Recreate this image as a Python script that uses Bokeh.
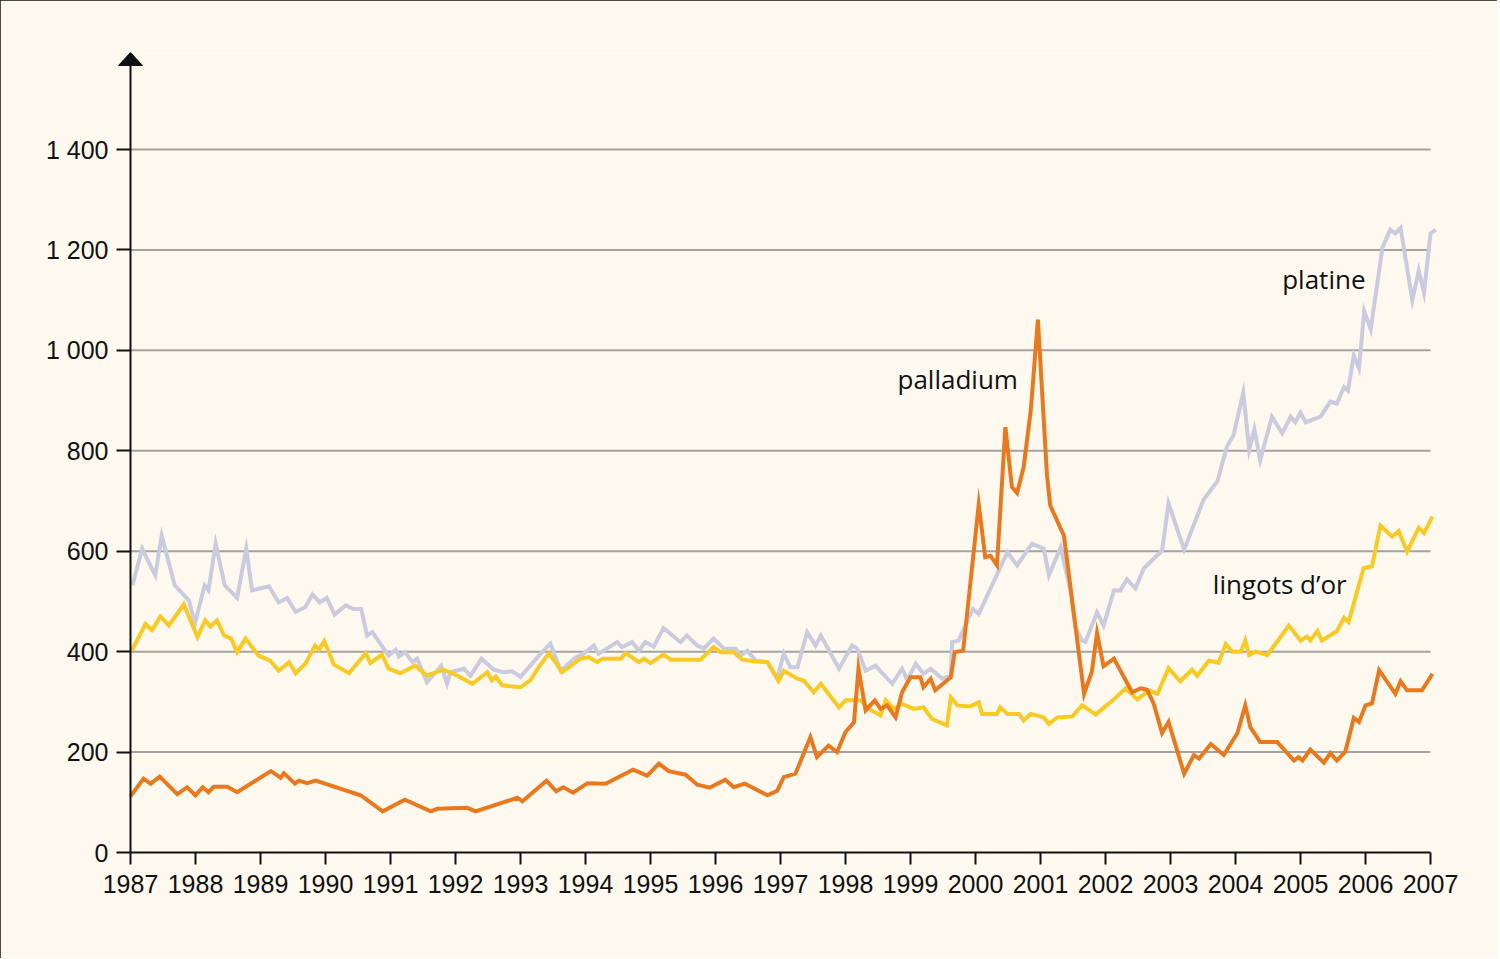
from bokeh.plotting import figure
from bokeh.models import Range1d, FixedTicker, Label, Span
from bokeh.embed import file_html
from bokeh.resources import INLINE

# ---- data ----
years_ticks = list(range(1987, 2008))
year_labels = [str(y) for y in years_ticks]
y_ticks = [0, 200, 400, 600, 800, 1000, 1200, 1400]
y_labels = ["0", "200", "400", "600", "800", "1 000", "1 200", "1 400"]

platine_x = [1987.03, 1987.18, 1987.38, 1987.48, 1987.68, 1987.90, 1987.99, 1988.14, 1988.20, 1988.31,
             1988.45, 1988.64, 1988.78, 1988.87, 1989.13, 1989.28, 1989.41, 1989.54, 1989.69, 1989.80,
             1989.91, 1990.02, 1990.14, 1990.31, 1990.43, 1990.55, 1990.64, 1990.72, 1990.97, 1991.08,
             1991.13, 1991.22, 1991.34, 1991.41, 1991.56, 1991.78, 1991.87, 1991.92, 1992.13, 1992.23,
             1992.40, 1992.59, 1992.74, 1992.87, 1993.00, 1993.31, 1993.46, 1993.62, 1993.82, 1993.97,
             1994.13, 1994.20, 1994.49, 1994.56, 1994.72, 1994.82, 1994.92, 1995.05, 1995.20, 1995.46,
             1995.56, 1995.72, 1995.82, 1995.97, 1996.13, 1996.31, 1996.38, 1996.49, 1996.62, 1996.80,
             1996.95, 1997.05, 1997.15, 1997.26, 1997.41, 1997.54, 1997.62, 1997.90, 1998.10, 1998.18,
             1998.31, 1998.46, 1998.72, 1998.87, 1998.95, 1999.08, 1999.20, 1999.31, 1999.49, 1999.62,
             1999.64, 1999.74, 1999.96, 2000.05, 2000.49, 2000.64, 2000.87, 2001.05, 2001.13, 2001.31,
             2001.46, 2001.54, 2001.64, 2001.69, 2001.87, 2001.97, 2002.13, 2002.23, 2002.33, 2002.46,
             2002.59, 2002.74, 2002.87, 2002.97, 2003.21, 2003.51, 2003.72, 2003.87, 2003.97, 2004.12,
             2004.21, 2004.29, 2004.38, 2004.56, 2004.72, 2004.85, 2004.92, 2005.00, 2005.08, 2005.31,
             2005.46, 2005.56, 2005.67, 2005.73, 2005.82, 2005.90, 2005.98, 2006.08, 2006.26, 2006.38,
             2006.46, 2006.54, 2006.72, 2006.82, 2006.90, 2007.00, 2007.08]
platine_y = [532, 605, 552, 631, 532, 502, 455, 532, 522, 615,
             532, 507, 605, 522, 530, 498, 507, 479, 489, 514,
             498, 507, 474, 492, 485, 485, 432, 439, 392, 404,
             390, 399, 379, 386, 339, 372, 336, 359, 366, 352,
             386, 364, 359, 361, 350, 396, 416, 362, 386, 396,
             412, 396, 419, 409, 419, 402, 419, 410, 447, 419,
             432, 412, 406, 426, 406, 406, 392, 402, 382, 379,
             346, 396, 369, 369, 439, 412, 432, 366, 412, 406,
             362, 372, 336, 366, 343, 376, 356, 366, 346, 352,
             419, 422, 485, 475, 598, 572, 615, 605, 552, 608,
             522, 448, 422, 419, 478, 452, 522, 522, 544, 526,
             566, 585, 601, 695, 603, 703, 739, 809, 831, 916,
             802, 843, 781, 868, 835, 868, 857, 876, 857, 868,
             898, 894, 927, 920, 990, 964, 1078, 1042, 1204, 1240,
             1233, 1244, 1100, 1159, 1115, 1233, 1240]

or_x = [1987.02, 1987.23, 1987.33, 1987.46, 1987.59, 1987.82, 1988.03, 1988.15, 1988.23, 1988.33,
        1988.44, 1988.55, 1988.64, 1988.77, 1988.97, 1989.15, 1989.28, 1989.44, 1989.54, 1989.69,
        1989.84, 1989.90, 1989.98, 1990.13, 1990.36, 1990.62, 1990.69, 1990.87, 1990.97, 1991.15,
        1991.38, 1991.56, 1991.81, 1992.03, 1992.26, 1992.49, 1992.56, 1992.62, 1992.72, 1993.00,
        1993.15, 1993.28, 1993.44, 1993.64, 1993.92, 1994.05, 1994.18, 1994.26, 1994.54, 1994.62,
        1994.82, 1994.90, 1995.00, 1995.20, 1995.31, 1995.77, 1995.97, 1996.08, 1996.28, 1996.41,
        1996.59, 1996.80, 1996.97, 1997.05, 1997.26, 1997.36, 1997.51, 1997.62, 1997.90, 1998.00,
        1998.23, 1998.36, 1998.54, 1998.62, 1998.74, 1998.87, 1999.05, 1999.20, 1999.33, 1999.56,
        1999.62, 1999.72, 1999.92, 2000.05, 2000.10, 2000.33, 2000.38, 2000.49, 2000.67, 2000.74,
        2000.85, 2001.05, 2001.13, 2001.26, 2001.49, 2001.64, 2001.85, 2002.13, 2002.31, 2002.49,
        2002.67, 2002.80, 2002.97, 2003.15, 2003.33, 2003.41, 2003.59, 2003.74, 2003.85, 2003.95,
        2004.08, 2004.15, 2004.21, 2004.31, 2004.49, 2004.82, 2005.00, 2005.10, 2005.15, 2005.26,
        2005.33, 2005.56, 2005.67, 2005.74, 2005.97, 2006.10, 2006.23, 2006.41, 2006.51, 2006.64,
        2006.82, 2006.90, 2007.03]
or_y = [402, 455, 443, 470, 452, 494, 429, 462, 450, 462,
        432, 426, 399, 426, 392, 382, 362, 379, 357, 376,
        412, 404, 421, 374, 357, 397, 377, 394, 366, 357,
        372, 352, 364, 352, 336, 359, 343, 350, 333, 329,
        343, 369, 397, 359, 386, 389, 379, 386, 386, 397,
        379, 386, 377, 394, 384, 384, 409, 399, 399, 384,
        381, 379, 342, 362, 346, 342, 319, 336, 289, 303,
        303, 286, 273, 303, 286, 296, 286, 289, 266, 253,
        309, 293, 291, 299, 276, 276, 289, 276, 276, 263,
        276, 269, 256, 269, 271, 293, 275, 305, 327, 305,
        323, 316, 367, 341, 364, 352, 382, 378, 415, 400,
        400, 422, 393, 400, 393, 452, 422, 430, 422, 441,
        422, 441, 467, 459, 566, 570, 651, 629, 640, 599,
        647, 636, 669]

palladium_x = [1987.00, 1987.20, 1987.31, 1987.45, 1987.72, 1987.87, 1988.00, 1988.11, 1988.20, 1988.28,
               1988.49, 1988.64, 1989.16, 1989.31, 1989.36, 1989.53, 1989.59, 1989.72, 1989.85, 1990.54,
               1990.88, 1991.22, 1991.62, 1991.72, 1992.18, 1992.31, 1992.95, 1993.03, 1993.40, 1993.55,
               1993.66, 1993.81, 1994.03, 1994.31, 1994.73, 1994.95, 1995.13, 1995.28, 1995.54, 1995.72,
               1995.91, 1996.15, 1996.28, 1996.45, 1996.80, 1996.95, 1997.05, 1997.23, 1997.46, 1997.56,
               1997.74, 1997.87, 1998.00, 1998.13, 1998.20, 1998.31, 1998.45, 1998.54, 1998.64, 1998.77,
               1998.87, 1999.00, 1999.15, 1999.20, 1999.31, 1999.38, 1999.62, 1999.68, 1999.81, 2000.05,
               2000.15, 2000.23, 2000.33, 2000.46, 2000.56, 2000.64, 2000.74, 2000.85, 2000.96, 2001.10,
               2001.15, 2001.36, 2001.54, 2001.67, 2001.79, 2001.87, 2001.97, 2002.13, 2002.41, 2002.54,
               2002.64, 2002.74, 2002.87, 2002.97, 2003.21, 2003.36, 2003.44, 2003.62, 2003.82, 2004.03,
               2004.15, 2004.23, 2004.38, 2004.64, 2004.90, 2004.97, 2005.03, 2005.15, 2005.36, 2005.46,
               2005.56, 2005.69, 2005.82, 2005.90, 2006.00, 2006.10, 2006.21, 2006.46, 2006.54, 2006.64,
               2006.87, 2007.03]
palladium_y = [112, 147, 137, 151, 116, 130, 114, 130, 120, 131,
               131, 120, 162, 149, 158, 137, 143, 138, 143, 114,
               82, 105, 82, 87, 89, 82, 109, 102, 143, 122,
               130, 119, 138, 137, 165, 153, 177, 162, 155, 135,
               129, 145, 130, 137, 114, 123, 150, 157, 230, 190,
               213, 200, 240, 259, 366, 283, 303, 286, 293, 269,
               319, 349, 349, 329, 346, 323, 349, 399, 402, 693,
               588, 591, 572, 847, 728, 716, 767, 880, 1061, 751,
               691, 631, 448, 316, 360, 437, 371, 386, 319, 327,
               324, 297, 238, 260, 157, 194, 187, 216, 194, 238,
               293, 249, 220, 220, 183, 190, 183, 205, 179, 198,
               183, 201, 268, 260, 293, 297, 363, 316, 341, 323,
               323, 356]

series_names = ["platine", "lingots d\u2019or", "palladium"]

# ---- styling constants ----
BG = "#fdf9ef"
INK = "#111111"
FONT = "Liberation Sans"
LABEL_FONT = "Open Sans"
PX_PER_YEAR = 65.0
PX_PER_UNIT = 703.0 / 1400.0
X0, X1 = years_ticks[0], years_ticks[-1]

x_start = X0 - 14 / PX_PER_YEAR          # frame starts 14px left of the axis
x_end = X0 + 1308 / PX_PER_YEAR
y_end = 800 / PX_PER_UNIT                # arrow tip at frame top

p = figure(width=1497, height=958,
           x_range=Range1d(x_start, x_end), y_range=Range1d(0, y_end),
           output_backend="svg", toolbar_location=None,
           min_border_left=116, min_border_right=59,
           min_border_top=52, min_border_bottom=106,
           styles={"outline": "2px solid #111111", "outline-offset": "-2px"})

p.background_fill_color = BG
p.border_fill_color = BG
p.outline_line_color = None
p.xgrid.visible = False
p.ygrid.visible = False

for ax in (p.xaxis, p.yaxis):
    ax.axis_line_color = INK
    ax.axis_line_width = 2
    ax.major_tick_line_color = INK
    ax.major_tick_line_width = 2
    ax.minor_tick_line_color = None
    ax.major_label_text_font = FONT
    ax.major_label_text_font_size = "25px"
    ax.major_label_text_color = INK

p.xaxis.ticker = FixedTicker(ticks=years_ticks)
p.xaxis.major_label_overrides = dict(zip(years_ticks, year_labels))
p.xaxis.bounds = (X0, X1)
p.xaxis.major_tick_in = 0
p.xaxis.major_tick_out = 12
p.xaxis.major_label_standoff = 10

p.yaxis.ticker = FixedTicker(ticks=y_ticks)
p.yaxis.major_label_overrides = dict(zip(y_ticks, y_labels))
p.yaxis.axis_line_color = None
p.yaxis.major_tick_in = 14
p.yaxis.major_tick_out = 0
p.yaxis.major_label_standoff = 8

# horizontal grid lines between the first and last year
grid_y = y_ticks[1:]
p.segment(x0=[X0] * len(grid_y), y0=grid_y, x1=[X1] * len(grid_y), y1=grid_y,
          line_color="#a3a3a3", line_width=2)

p.line(platine_x, platine_y, line_color="#cbcbdf", line_width=4, line_join="miter")
p.line(or_x, or_y, line_color="#f9ca26", line_width=4, line_join="miter")
p.line(palladium_x, palladium_y, line_color="#e8791e", line_width=4, line_join="miter")

# vertical axis line with arrow head
p.add_layout(Span(location=X0, dimension="height", line_color=INK, line_width=2))
p.patch(x=[X0 - 12 / PX_PER_YEAR, X0, X0 + 12 / PX_PER_YEAR],
        y=[y_end - 13 / PX_PER_UNIT, y_end, y_end - 13 / PX_PER_UNIT],
        fill_color=INK, line_color=INK, line_width=1)

lab_style = dict(text_font=LABEL_FONT, text_font_size="26px", text_color=INK,
                 text_baseline="alphabetic")
p.add_layout(Label(x=1998.8, y=942, text=series_names[2], text_align="left", **lab_style))
p.add_layout(Label(x=2006.0, y=1142, text=series_names[0], text_align="right", **lab_style))
p.add_layout(Label(x=2005.71, y=534, text=series_names[1], text_align="right", **lab_style))

open("out.html", "w").write(file_html(p, INLINE))
